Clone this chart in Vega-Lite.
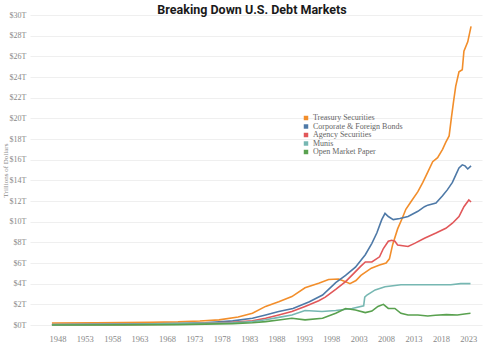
{
  "$schema": "https://vega.github.io/schema/vega-lite/v6.json",
  "width": 452,
  "height": 310,
  "autosize": {"type": "none"},
  "padding": {"left": 30, "top": 15, "right": 3, "bottom": 35},
  "background": "white",
  "title": {"text": "Breaking Down U.S. Debt Markets", "font": "Roboto", "fontSize": 12.5, "fontWeight": "bold", "color": "#1a1a1a", "anchor": "middle", "offset": 1, "dx": -4, "dy": 6},
  "datasets": {
    "debt": [
      {"series": "Treasury Securities", "year": 1947, "value": 0.2},
      {"series": "Treasury Securities", "year": 1955, "value": 0.22},
      {"series": "Treasury Securities", "year": 1960, "value": 0.24},
      {"series": "Treasury Securities", "year": 1965, "value": 0.26},
      {"series": "Treasury Securities", "year": 1970, "value": 0.3},
      {"series": "Treasury Securities", "year": 1974, "value": 0.38},
      {"series": "Treasury Securities", "year": 1977.5, "value": 0.5},
      {"series": "Treasury Securities", "year": 1981, "value": 0.78},
      {"series": "Treasury Securities", "year": 1983.6, "value": 1.14},
      {"series": "Treasury Securities", "year": 1986, "value": 1.8},
      {"series": "Treasury Securities", "year": 1988.4, "value": 2.25},
      {"series": "Treasury Securities", "year": 1990.8, "value": 2.75},
      {"series": "Treasury Securities", "year": 1993.2, "value": 3.6},
      {"series": "Treasury Securities", "year": 1995.7, "value": 4.05},
      {"series": "Treasury Securities", "year": 1997.5, "value": 4.4},
      {"series": "Treasury Securities", "year": 1999.3, "value": 4.45},
      {"series": "Treasury Securities", "year": 2000.5, "value": 4.2},
      {"series": "Treasury Securities", "year": 2001.4, "value": 4.0},
      {"series": "Treasury Securities", "year": 2002.5, "value": 4.3},
      {"series": "Treasury Securities", "year": 2003.4, "value": 4.8},
      {"series": "Treasury Securities", "year": 2005.3, "value": 5.5},
      {"series": "Treasury Securities", "year": 2006.8, "value": 5.8},
      {"series": "Treasury Securities", "year": 2008, "value": 6.0},
      {"series": "Treasury Securities", "year": 2008.6, "value": 6.4},
      {"series": "Treasury Securities", "year": 2009.2, "value": 7.8},
      {"series": "Treasury Securities", "year": 2010.1, "value": 9.3},
      {"series": "Treasury Securities", "year": 2011, "value": 10.4},
      {"series": "Treasury Securities", "year": 2011.6, "value": 11.2},
      {"series": "Treasury Securities", "year": 2012.5, "value": 11.9},
      {"series": "Treasury Securities", "year": 2013.8, "value": 12.9},
      {"series": "Treasury Securities", "year": 2014.7, "value": 13.8},
      {"series": "Treasury Securities", "year": 2015.6, "value": 14.8},
      {"series": "Treasury Securities", "year": 2016.5, "value": 15.8},
      {"series": "Treasury Securities", "year": 2017.4, "value": 16.2},
      {"series": "Treasury Securities", "year": 2018.3, "value": 17.0},
      {"series": "Treasury Securities", "year": 2018.9, "value": 17.7},
      {"series": "Treasury Securities", "year": 2019.5, "value": 18.3},
      {"series": "Treasury Securities", "year": 2019.9, "value": 20.0},
      {"series": "Treasury Securities", "year": 2020.3, "value": 21.6},
      {"series": "Treasury Securities", "year": 2020.7, "value": 23.1},
      {"series": "Treasury Securities", "year": 2021.3, "value": 24.5},
      {"series": "Treasury Securities", "year": 2021.9, "value": 24.7},
      {"series": "Treasury Securities", "year": 2022.2, "value": 26.5},
      {"series": "Treasury Securities", "year": 2022.9, "value": 27.4},
      {"series": "Treasury Securities", "year": 2023.5, "value": 28.9},

      {"series": "Corporate & Foreign Bonds", "year": 1947, "value": 0.05},
      {"series": "Corporate & Foreign Bonds", "year": 1960, "value": 0.08},
      {"series": "Corporate & Foreign Bonds", "year": 1970, "value": 0.15},
      {"series": "Corporate & Foreign Bonds", "year": 1975, "value": 0.22},
      {"series": "Corporate & Foreign Bonds", "year": 1980, "value": 0.4},
      {"series": "Corporate & Foreign Bonds", "year": 1983.6, "value": 0.65},
      {"series": "Corporate & Foreign Bonds", "year": 1986, "value": 0.97},
      {"series": "Corporate & Foreign Bonds", "year": 1988.4, "value": 1.3},
      {"series": "Corporate & Foreign Bonds", "year": 1991, "value": 1.6},
      {"series": "Corporate & Foreign Bonds", "year": 1994, "value": 2.25},
      {"series": "Corporate & Foreign Bonds", "year": 1996.4, "value": 2.9},
      {"series": "Corporate & Foreign Bonds", "year": 1998.8, "value": 4.1},
      {"series": "Corporate & Foreign Bonds", "year": 2000.6, "value": 4.8},
      {"series": "Corporate & Foreign Bonds", "year": 2002.4, "value": 5.6},
      {"series": "Corporate & Foreign Bonds", "year": 2004.2, "value": 6.8},
      {"series": "Corporate & Foreign Bonds", "year": 2005.4, "value": 7.9},
      {"series": "Corporate & Foreign Bonds", "year": 2006.3, "value": 8.9},
      {"series": "Corporate & Foreign Bonds", "year": 2007.2, "value": 10.2},
      {"series": "Corporate & Foreign Bonds", "year": 2007.8, "value": 10.8},
      {"series": "Corporate & Foreign Bonds", "year": 2008.4, "value": 10.5},
      {"series": "Corporate & Foreign Bonds", "year": 2009.3, "value": 10.2},
      {"series": "Corporate & Foreign Bonds", "year": 2010.5, "value": 10.3},
      {"series": "Corporate & Foreign Bonds", "year": 2012, "value": 10.5},
      {"series": "Corporate & Foreign Bonds", "year": 2013.8, "value": 11.0},
      {"series": "Corporate & Foreign Bonds", "year": 2015, "value": 11.45},
      {"series": "Corporate & Foreign Bonds", "year": 2015.6, "value": 11.6},
      {"series": "Corporate & Foreign Bonds", "year": 2017.1, "value": 11.8},
      {"series": "Corporate & Foreign Bonds", "year": 2018.3, "value": 12.5},
      {"series": "Corporate & Foreign Bonds", "year": 2019.2, "value": 13.1},
      {"series": "Corporate & Foreign Bonds", "year": 2020.1, "value": 13.8},
      {"series": "Corporate & Foreign Bonds", "year": 2020.7, "value": 14.5},
      {"series": "Corporate & Foreign Bonds", "year": 2021.3, "value": 15.2},
      {"series": "Corporate & Foreign Bonds", "year": 2021.9, "value": 15.5},
      {"series": "Corporate & Foreign Bonds", "year": 2022.4, "value": 15.4},
      {"series": "Corporate & Foreign Bonds", "year": 2022.9, "value": 15.1},
      {"series": "Corporate & Foreign Bonds", "year": 2023.5, "value": 15.4},

      {"series": "Agency Securities", "year": 1947, "value": 0.02},
      {"series": "Agency Securities", "year": 1960, "value": 0.04},
      {"series": "Agency Securities", "year": 1970, "value": 0.08},
      {"series": "Agency Securities", "year": 1980, "value": 0.25},
      {"series": "Agency Securities", "year": 1983.6, "value": 0.4},
      {"series": "Agency Securities", "year": 1986, "value": 0.65},
      {"series": "Agency Securities", "year": 1988.4, "value": 0.97},
      {"series": "Agency Securities", "year": 1990.8, "value": 1.3},
      {"series": "Agency Securities", "year": 1993.2, "value": 1.8},
      {"series": "Agency Securities", "year": 1995.7, "value": 2.35},
      {"series": "Agency Securities", "year": 1996.9, "value": 2.7},
      {"series": "Agency Securities", "year": 1998.8, "value": 3.45},
      {"series": "Agency Securities", "year": 2000.6, "value": 4.2},
      {"series": "Agency Securities", "year": 2002.1, "value": 5.0},
      {"series": "Agency Securities", "year": 2003.3, "value": 5.65},
      {"series": "Agency Securities", "year": 2004.2, "value": 6.1},
      {"series": "Agency Securities", "year": 2005.4, "value": 6.1},
      {"series": "Agency Securities", "year": 2006.8, "value": 6.6},
      {"series": "Agency Securities", "year": 2007.5, "value": 7.4},
      {"series": "Agency Securities", "year": 2008.4, "value": 8.1},
      {"series": "Agency Securities", "year": 2009, "value": 8.2},
      {"series": "Agency Securities", "year": 2009.6, "value": 8.1},
      {"series": "Agency Securities", "year": 2010.1, "value": 7.75},
      {"series": "Agency Securities", "year": 2012, "value": 7.6},
      {"series": "Agency Securities", "year": 2013.2, "value": 7.9},
      {"series": "Agency Securities", "year": 2015, "value": 8.4},
      {"series": "Agency Securities", "year": 2017.1, "value": 8.9},
      {"series": "Agency Securities", "year": 2018.9, "value": 9.36},
      {"series": "Agency Securities", "year": 2020.1, "value": 9.85},
      {"series": "Agency Securities", "year": 2021.3, "value": 10.5},
      {"series": "Agency Securities", "year": 2022.2, "value": 11.45},
      {"series": "Agency Securities", "year": 2023.1, "value": 12.1},
      {"series": "Agency Securities", "year": 2023.5, "value": 11.9},

      {"series": "Munis", "year": 1947, "value": 0.03},
      {"series": "Munis", "year": 1960, "value": 0.07},
      {"series": "Munis", "year": 1970, "value": 0.15},
      {"series": "Munis", "year": 1980, "value": 0.22},
      {"series": "Munis", "year": 1983.6, "value": 0.33},
      {"series": "Munis", "year": 1986, "value": 0.5},
      {"series": "Munis", "year": 1988.4, "value": 0.74},
      {"series": "Munis", "year": 1990.8, "value": 0.97},
      {"series": "Munis", "year": 1993.2, "value": 1.4},
      {"series": "Munis", "year": 1996.3, "value": 1.3},
      {"series": "Munis", "year": 1998.8, "value": 1.4},
      {"series": "Munis", "year": 2001.8, "value": 1.6},
      {"series": "Munis", "year": 2003.9, "value": 1.85},
      {"series": "Munis", "year": 2004.1, "value": 2.7},
      {"series": "Munis", "year": 2004.5, "value": 2.9},
      {"series": "Munis", "year": 2006, "value": 3.4},
      {"series": "Munis", "year": 2007.8, "value": 3.7},
      {"series": "Munis", "year": 2010.7, "value": 3.9},
      {"series": "Munis", "year": 2013.8, "value": 3.9},
      {"series": "Munis", "year": 2016.8, "value": 3.9},
      {"series": "Munis", "year": 2019.8, "value": 3.9},
      {"series": "Munis", "year": 2021.6, "value": 4.0},
      {"series": "Munis", "year": 2023.4, "value": 4.0},

      {"series": "Open Market Paper", "year": 1947, "value": 0.0},
      {"series": "Open Market Paper", "year": 1960, "value": 0.01},
      {"series": "Open Market Paper", "year": 1970, "value": 0.04},
      {"series": "Open Market Paper", "year": 1980, "value": 0.13},
      {"series": "Open Market Paper", "year": 1983.6, "value": 0.22},
      {"series": "Open Market Paper", "year": 1986, "value": 0.33},
      {"series": "Open Market Paper", "year": 1988.4, "value": 0.48},
      {"series": "Open Market Paper", "year": 1990.8, "value": 0.65},
      {"series": "Open Market Paper", "year": 1993.2, "value": 0.5},
      {"series": "Open Market Paper", "year": 1996.4, "value": 0.65},
      {"series": "Open Market Paper", "year": 1998.8, "value": 1.13},
      {"series": "Open Market Paper", "year": 2000.6, "value": 1.6},
      {"series": "Open Market Paper", "year": 2002.4, "value": 1.45},
      {"series": "Open Market Paper", "year": 2004.2, "value": 1.2},
      {"series": "Open Market Paper", "year": 2005.4, "value": 1.35},
      {"series": "Open Market Paper", "year": 2006.5, "value": 1.8},
      {"series": "Open Market Paper", "year": 2007.5, "value": 2.0},
      {"series": "Open Market Paper", "year": 2008.4, "value": 1.6},
      {"series": "Open Market Paper", "year": 2009.6, "value": 1.6},
      {"series": "Open Market Paper", "year": 2010.7, "value": 1.13},
      {"series": "Open Market Paper", "year": 2012, "value": 0.97},
      {"series": "Open Market Paper", "year": 2013.8, "value": 0.97},
      {"series": "Open Market Paper", "year": 2015.6, "value": 0.87},
      {"series": "Open Market Paper", "year": 2017, "value": 0.95},
      {"series": "Open Market Paper", "year": 2019, "value": 1.0},
      {"series": "Open Market Paper", "year": 2021, "value": 0.97},
      {"series": "Open Market Paper", "year": 2022.3, "value": 1.07},
      {"series": "Open Market Paper", "year": 2023.4, "value": 1.13}
    ]
  },
  "data": {"name": "debt"},
  "mark": {"type": "line", "strokeWidth": 1.6},
  "encoding": {
    "x": {
      "field": "year", "type": "quantitative",
      "scale": {"domain": [1943, 2025.5], "nice": false, "zero": false},
      "axis": {"values": [1948, 1953, 1958, 1963, 1968, 1973, 1978, 1983, 1988, 1993, 1998, 2003, 2008, 2013, 2018, 2023], "format": "d", "grid": false, "domain": false, "ticks": false, "labelFont": "Liberation Serif", "labelFontSize": 8.5, "labelColor": "#888888", "labelPadding": 9, "title": null}
    },
    "y": {
      "field": "value", "type": "quantitative",
      "scale": {"domain": [0, 30], "nice": false},
      "axis": {"values": [0, 2, 4, 6, 8, 10, 12, 14, 16, 18, 20, 22, 24, 26, 28, 30], "labelExpr": "'$' + datum.value + 'T'", "grid": true, "gridColor": "#efefef", "domain": false, "ticks": false, "labelFont": "Liberation Serif", "labelFontSize": 8, "labelColor": "#888888", "labelPadding": 4, "title": "Trillions of Dollars", "titleFont": "Liberation Serif", "titleFontSize": 7, "titleFontWeight": "normal", "titleColor": "#888888", "titleX": -25, "titleAngle": -90, "titleAlign": "center", "titleBaseline": "middle"}
    },
    "color": {
      "field": "series", "type": "nominal",
      "scale": {"domain": ["Treasury Securities", "Corporate & Foreign Bonds", "Agency Securities", "Munis", "Open Market Paper"], "range": ["#f28e2b", "#4e79a7", "#e15759", "#76b7b2", "#59a14f"]},
      "legend": {"orient": "none", "legendX": 272, "legendY": 99, "title": null, "padding": 0, "symbolType": "square", "symbolSize": 20, "labelFont": "Liberation Serif", "labelFontSize": 8, "labelColor": "#666666", "rowPadding": 0.5, "labelOffset": 3,
        "encode": {"symbols": {"update": {"fill": {"scale": "color", "field": "value"}, "fillOpacity": {"value": 1}, "strokeWidth": {"value": 0}}}}}
    }
  },
  "config": {"view": {"stroke": null}}
}
